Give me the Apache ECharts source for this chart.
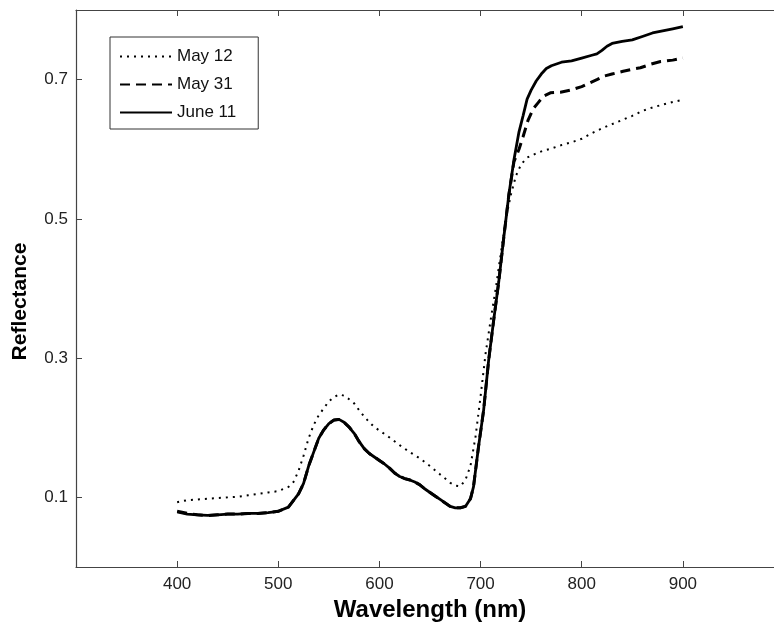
<!DOCTYPE html>
<html>
<head>
<meta charset="utf-8">
<script src="https://cdn.jsdelivr.net/npm/echarts@6/dist/echarts.min.js"></script>
<style>html,body{margin:0;padding:0;background:#fff}#c{width:774px;height:622px}</style>
</head>
<body>
<div id="c"></div>
<script>
var xTicks = [400, 500, 600, 700, 800, 900];
var yTicks = [0.1, 0.3, 0.5, 0.7];
var seriesNames = ['May 12', 'May 31', 'June 11'];

var may12 = [
[400,0.093],[410,0.096],[420,0.097],[430,0.098],[440,0.099],[450,0.100],[460,0.101],[470,0.103],[480,0.105],[490,0.107],
[500,0.109],[510,0.115],[515,0.122],[520,0.138],[525,0.160],[530,0.185],[535,0.204],[540,0.218],[545,0.228],[550,0.238],
[555,0.244],[560,0.248],[565,0.246],[570,0.241],[575,0.235],[580,0.225],[585,0.216],[590,0.208],[595,0.201],[600,0.196],
[610,0.186],[620,0.175],[630,0.165],[640,0.156],[650,0.145],[660,0.133],[670,0.121],[675,0.117],[680,0.116],[685,0.125],
[690,0.145],[695,0.187],[700,0.245],[705,0.307],[710,0.355],[715,0.400],[720,0.450],[725,0.500],[730,0.535],[735,0.562],
[740,0.578],[746,0.588],[755,0.594],[762,0.598],[770,0.601],[780,0.606],[790,0.610],[800,0.615],[810,0.623],[820,0.630],
[830,0.636],[840,0.642],[850,0.648],[860,0.655],[870,0.660],[880,0.664],[890,0.668],[900,0.671]
];

var may31 = [
[400,0.080],[410,0.077],[420,0.075],[430,0.074],[440,0.075],[450,0.076],[460,0.076],[470,0.077],[480,0.077],[490,0.078],
[500,0.080],[510,0.086],[520,0.105],[525,0.120],[530,0.145],[535,0.165],[540,0.185],[545,0.197],[550,0.206],[555,0.211],
[560,0.212],[565,0.208],[570,0.201],[575,0.192],[580,0.180],[585,0.170],[590,0.163],[595,0.158],[600,0.153],[605,0.148],
[610,0.142],[615,0.135],[620,0.130],[625,0.127],[630,0.125],[635,0.122],[640,0.118],[645,0.112],[650,0.107],[655,0.102],
[660,0.097],[665,0.092],[670,0.087],[675,0.085],[680,0.085],[685,0.087],[690,0.098],[693,0.115],[698,0.173],[703,0.225],
[708,0.297],[713,0.355],[718,0.410],[723,0.474],[728,0.535],[733,0.582],[738,0.600],[742,0.618],[747,0.642],[752,0.658],
[757,0.667],[762,0.676],[769,0.681],[779,0.682],[789,0.685],[800,0.690],[806,0.694],[815,0.700],[822,0.705],[830,0.708],
[841,0.712],[850,0.715],[858,0.717],[868,0.722],[878,0.726],[890,0.728],[900,0.731]
];

var june11 = [
[400,0.079],[410,0.076],[420,0.075],[430,0.074],[440,0.075],[450,0.076],[460,0.076],[470,0.077],[480,0.077],[490,0.078],
[500,0.080],[510,0.086],[520,0.105],[525,0.120],[530,0.145],[535,0.165],[540,0.185],[545,0.197],[550,0.206],[555,0.211],
[560,0.212],[565,0.208],[570,0.201],[575,0.192],[580,0.180],[585,0.170],[590,0.163],[595,0.158],[600,0.153],[605,0.148],
[610,0.142],[615,0.135],[620,0.130],[625,0.127],[630,0.125],[635,0.122],[640,0.118],[645,0.112],[650,0.107],[655,0.102],
[660,0.097],[665,0.092],[670,0.087],[675,0.085],[680,0.085],[685,0.087],[690,0.098],[693,0.115],[698,0.173],[703,0.225],
[708,0.297],[713,0.355],[718,0.410],[723,0.474],[728,0.535],[733,0.585],[738,0.625],[742,0.648],[746,0.672],[750,0.685],
[755,0.698],[760,0.708],[765,0.716],[770,0.720],[780,0.725],[790,0.727],[800,0.731],[810,0.735],[815,0.737],[820,0.742],
[825,0.748],[830,0.752],[840,0.755],[850,0.757],[860,0.762],[870,0.767],[880,0.770],[890,0.773],[900,0.776]
];

var FONT = 'Liberation Sans, Arial, Helvetica, sans-serif';
var axisCol = '#444';

function xAxisCfg(pos, showLabel) {
  return {
    type: 'value', position: pos, min: 300, max: 1000,
    name: showLabel ? 'Wavelength (nm)' : '',
    nameLocation: 'middle', nameGap: 31,
    nameTextStyle: { fontFamily: FONT, fontSize: 24, fontWeight: 'bold', color: '#000' },
    axisLine: { show: true, onZero: false, lineStyle: { color: axisCol, width: 1.2 } },
    axisTick: { show: true, inside: true, length: 6, customValues: xTicks, lineStyle: { color: axisCol } },
    axisLabel: { show: showLabel, customValues: xTicks, margin: 9, fontFamily: FONT, fontSize: 17, color: '#222' },
    splitLine: { show: false }
  };
}

var chart = echarts.init(document.getElementById('c'), null, { renderer: 'canvas' });
chart.setOption({
  animation: false,
  backgroundColor: '#fff',
  grid: { left: 76, top: 10, bottom: 55, right: -10, containLabel: false, outerBoundsMode: 'none' },
  legend: {
    orient: 'vertical', left: 110, top: 37,
    data: seriesNames,
    itemWidth: 52, itemHeight: 14, itemGap: 11,
    padding: [11, 22, 8, 9],
    borderColor: '#333', borderWidth: 1,
    itemStyle: { opacity: 0 },
    textStyle: { fontFamily: FONT, fontSize: 17, color: '#111' }
  },
  xAxis: [xAxisCfg('bottom', true), xAxisCfg('top', false)],
  yAxis: {
    type: 'value', min: 0, max: 0.8,
    name: 'Reflectance', nameLocation: 'middle', nameGap: 45,
    nameTextStyle: { fontFamily: FONT, fontSize: 21, fontWeight: 'bold', color: '#000', padding: [0, 26, 0, 0] },
    axisLine: { show: true, onZero: false, lineStyle: { color: axisCol, width: 1.2 } },
    axisTick: { show: true, inside: true, length: 6, customValues: yTicks, lineStyle: { color: axisCol } },
    axisLabel: { customValues: yTicks, margin: 8, fontFamily: FONT, fontSize: 17, color: '#222',
      formatter: function (v) { return v.toFixed(1); } },
    splitLine: { show: false }
  },
  series: [
    { name: 'May 12', type: 'line', data: may12, symbol: 'none', xAxisIndex: 0,
      lineStyle: { color: '#000', width: 2, type: [2, 5], cap: 'butt' }, itemStyle: { color: '#000' } },
    { name: 'May 31', type: 'line', data: may31, symbol: 'none', xAxisIndex: 0,
      lineStyle: { color: '#000', width: 3, type: [10, 6], cap: 'butt' }, itemStyle: { color: '#000' } },
    { name: 'June 11', type: 'line', data: june11, symbol: 'none', xAxisIndex: 0,
      lineStyle: { color: '#000', width: 2.8, type: 'solid' }, itemStyle: { color: '#000' } }
  ]
});
</script>
</body>
</html>
